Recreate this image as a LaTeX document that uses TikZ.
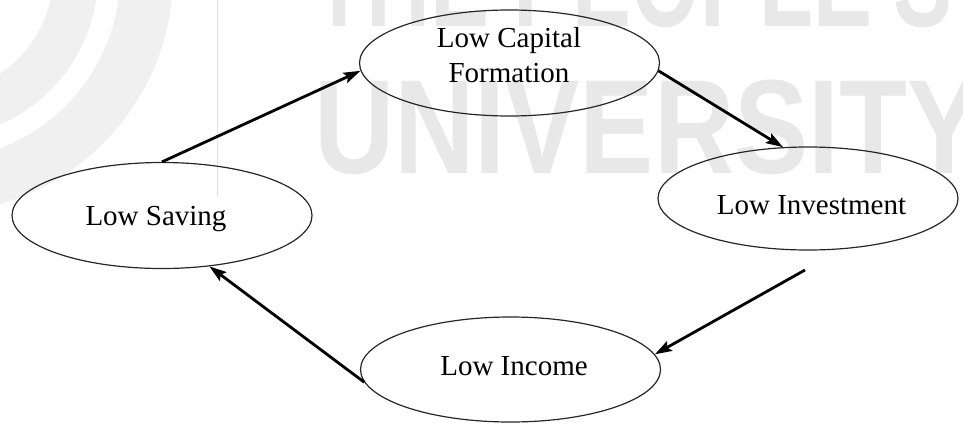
\documentclass[tikz,border=0pt]{standalone}
\usepackage{fontspec}
\setmainfont{Liberation Serif}
\newfontfamily\wmfont{Liberation Sans}
\usetikzlibrary{shapes.geometric, arrows.meta}

\begin{document}
\begin{tikzpicture}[x=1pt, y=-1pt,
  cell/.style={draw=black!85, line width=1.2pt, ellipse,
               minimum width=300pt, minimum height=106pt, inner sep=0pt},
  lbl/.style={font=\fontsize{29}{35}\selectfont, inner sep=0pt, align=center},
  flow/.style={line width=2.8pt, -{Stealth[length=17pt, width=11pt, inset=3pt]}},
  wmband/.style={black!6},
  wmtext/.style={text=black!9, inner sep=0pt,
                 font=\wmfont\bfseries\fontsize{134}{134}\selectfont}
]
\useasboundingbox (0,0) rectangle (963,423);

% faint background emblem
\begin{scope}
  \clip (0,0) rectangle (963,423);
  \draw[wmband, line width=45pt] (-65,-25) circle[radius=140.5pt];
  \draw[wmband, line width=53pt] (-65,-25) circle[radius=211.5pt];
  \draw[black!12, line width=0.8pt] (217,0) -- (217,197);
  \node[wmtext, anchor=base west] (wm-top) at (312,27)
    {\scalebox{0.66}[1]{THE PEOPLE'S}};
  \node[wmtext, anchor=base west] (wm-bottom) at (314,173)
    {\scalebox{0.83}[1]{UNIVERSITY}};
\end{scope}

% the four stages of the cycle
\node[cell] (lcf) at (509.5,63) {};
\node[cell] (ls)  at (162,215.5) {};
\node[cell, minimum height=103pt] (li)  at (808,198.5) {};
\node[cell, minimum height=105pt] (lin) at (510.5,369.5) {};

\node[lbl, anchor=north] (lcf-t) at (509,27.2) {Low Capital\\Formation};
\node[lbl, anchor=base]  (ls-t)  at (156,225)   {Low Saving};
\node[lbl, anchor=base]  (li-t)  at (811.5,214) {Low Investment};
\node[lbl, anchor=base]  (lin-t) at (514,375)   {Low Income};

% arrows round the cycle
\coordinate (li-out) at (805,270);
\draw[flow] (ls.north) -- (lcf.183);
\draw[flow] (lcf.-3) -- (li.116);
\draw[flow] (li-out) -- (lin.6);
\draw[flow] (lin.185) -- (ls.-47);
\end{tikzpicture}
\end{document}
